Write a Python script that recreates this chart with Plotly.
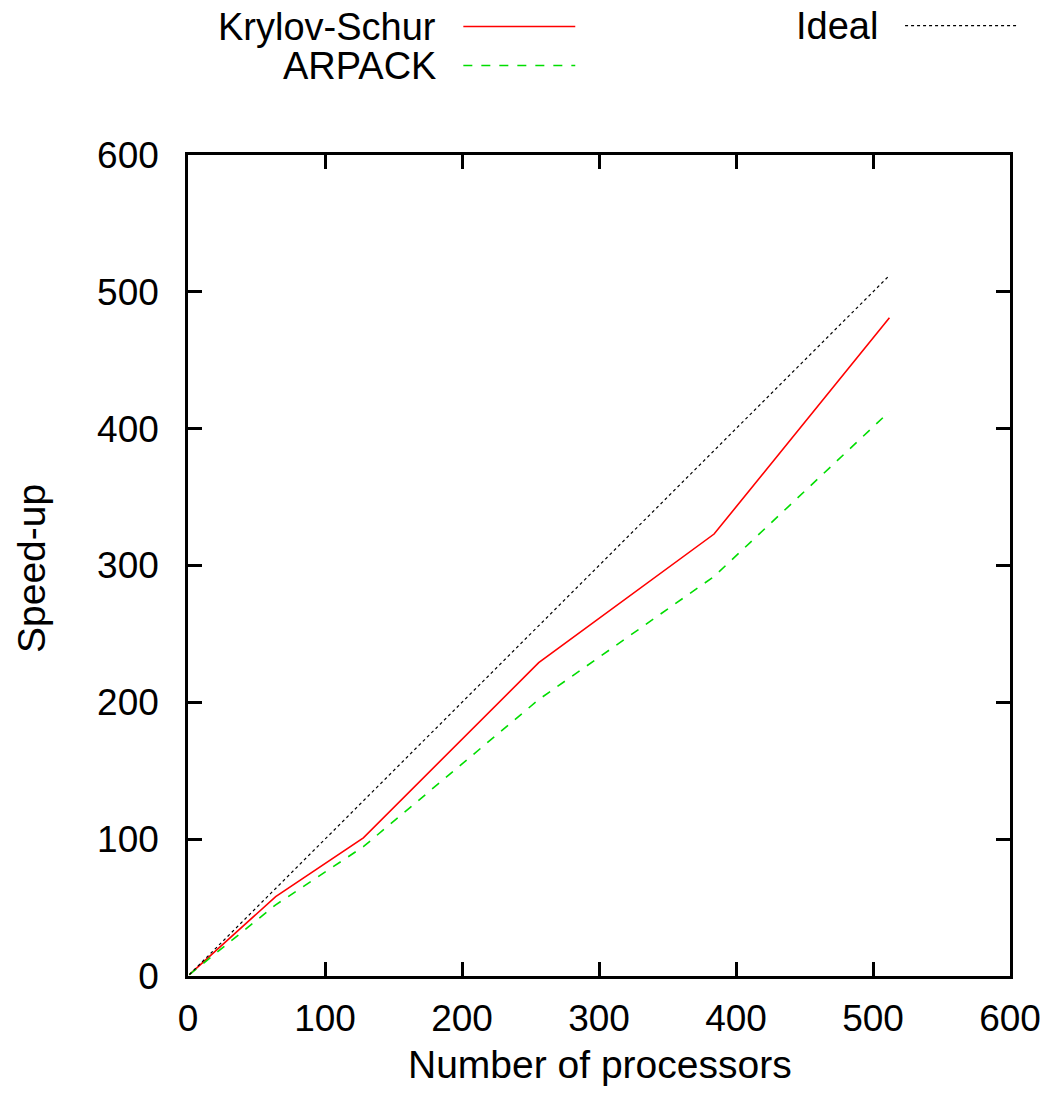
import plotly.graph_objects as go

procs = [1, 64, 128, 256, 384, 512]
krylov = [1, 58, 101, 229, 323, 481]
arpack = [1, 52, 94.5, 202, 292, 412.5]
ideal = [1, 64, 128, 256, 384, 512]
names = ["Krylov-Schur", "ARPACK", "Ideal"]
colors = ["#ff0000", "#00dd00", "#000000"]
dashes = ["solid", "dash", "dot"]

FONT = "Liberation Sans, Arial, Helvetica, sans-serif"
OFF = 0  # body margin removed by post_script below
W, H = 1056, 1101
L, R, T, B = 187.5 - OFF, 1010 - OFF, 154.5 - OFF, 975.7 - OFF


def px2paper(x, y):
    return (x - OFF - L) / (R - L), (B - (y - OFF)) / (B - T)


fig = go.Figure()
for y, n, c, d in zip([krylov, arpack, ideal], names, colors, dashes):
    fig.add_trace(go.Scatter(x=procs, y=y, mode="lines", name=n,
                             line=dict(color=c, dash=d, width=1.6 if d != "dot" else 1.2),
                             showlegend=False))

# gnuplot-style key: text right-aligned, sample line to the right
key = [(names[0], 438, 25, 463, 575, 26, colors[0], dashes[0]),
       (names[1], 438, 64.5, 463, 575, 65, colors[1], dashes[1]),
       (names[2], 880, 24, 905, 1018, 25, colors[2], dashes[2])]
for text, tx, ty, x0, x1, ly, c, d in key:
    ax, ay = px2paper(tx, ty + 1)
    fig.add_annotation(x=ax, y=ay, xref="paper", yref="paper", text=text,
                       showarrow=False, xanchor="right", yanchor="middle",
                       font=dict(size=38, color="black", family=FONT))
    sx0, sy = px2paper(x0, ly)
    sx1, _ = px2paper(x1, ly)
    fig.add_shape(type="line", xref="paper", yref="paper", x0=sx0, x1=sx1, y0=sy, y1=sy,
                  line=dict(color=c, dash=d, width=1.6 if d != "dot" else 1.2))

# axis titles
tx, ty = px2paper(600, 1064)
fig.add_annotation(x=tx, y=ty, xref="paper", yref="paper", text="Number of processors",
                   showarrow=False, xanchor="center", yanchor="middle",
                   font=dict(size=39, color="black", family=FONT))
tx, ty = px2paper(31, 568)
fig.add_annotation(x=tx, y=ty, xref="paper", yref="paper", text="Speed-up",
                   showarrow=False, xanchor="center", yanchor="middle", textangle=-90,
                   font=dict(size=39, color="black", family=FONT))

axis_common = dict(showgrid=False, zeroline=False, showline=True, linecolor="black",
                   linewidth=2.6, mirror="ticks", ticks="inside", ticklen=14, tickwidth=2.6,
                   tickcolor="black", tickfont=dict(size=37, color="black", family=FONT),
                   dtick=100, range=[0, 600])
fig.update_xaxes(ticklabelstandoff=8, **axis_common)
fig.update_yaxes(ticklabelstandoff=19, **axis_common)

fig.update_layout(width=W, height=H, plot_bgcolor="white", paper_bgcolor="white",
                  margin=dict(l=L, r=W - R, t=T, b=H - B, autoexpand=False),
                  font=dict(family=FONT, color="black"))
fig.write_html("out.html", config={"displayModeBar": False},
               post_script="document.body.style.margin='0px';document.body.style.overflow='hidden';")
